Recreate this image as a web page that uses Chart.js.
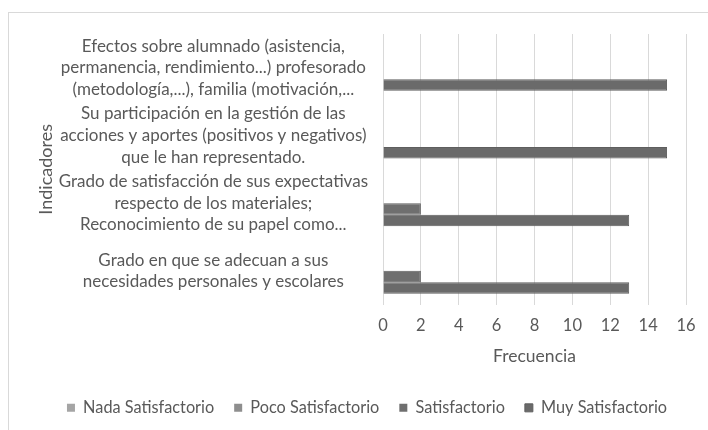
<!DOCTYPE html>
<html>
<head>
<meta charset="utf-8">
<script src="https://cdn.jsdelivr.net/npm/chart.js@4.4.1/dist/chart.umd.min.js"></script>
<style>
  html, body { margin: 0; padding: 0; background: #fff; overflow: hidden; width: 708px; height: 430px; }
  #frame { position: absolute; left: 8px; top: 12px; width: 716px; height: 440px; border: 1px solid #d9d9d9; }
  canvas { display: block; }
</style>
</head>
<body>
<div id="frame"><canvas id="chart" width="716" height="430"></canvas></div>
<script>
const categories = [
  ["Efectos sobre alumnado (asistencia,", "permanencia, rendimiento...) profesorado", "(metodología,...), familia (motivación,..."],
  ["Su participación en la gestión de las", "acciones y aportes (positivos y negativos)", "que le han representado."],
  ["Grado de satisfacción de sus expectativas", "respecto de los materiales;", "Reconocimiento de su papel como..."],
  ["Grado en que se adecuan a sus", "necesidades personales y escolares"],
];
const seriesNames = ["Nada Satisfactorio", "Poco Satisfactorio", "Satisfactorio", "Muy Satisfactorio"];
const nada = [0, 0, 0, 0];
const poco = [0, 0, 0, 0];
const satisf = [0, 0, 2, 2];
const muy = [15, 15, 13, 13];
const xTicks = [0, 2, 4, 6, 8, 10, 12, 14, 16];

const fontFamily = "Lato, 'Open Sans', sans-serif";
const textColor = "#595959";
const colors = ["#a5a5a5", "#8e8e8e", "#6f6f6f", "#6a6a6a"];

new Chart(document.getElementById("chart"), {
  type: "bar",
  data: {
    labels: categories,
    datasets: [nada, poco, satisf, muy].map((d, i) => ({
      label: seriesNames[i],
      data: d,
      backgroundColor: colors[i],
      borderColor: "#5e5e5e",
      borderWidth: d.map(v => (v > 0 && i >= 2 ? 1 : 0)),
      categoryPercentage: 0.68,
      barPercentage: 1,
    })),
  },
  options: {
    indexAxis: "y",
    responsive: false,
    animation: false,
    layout: { padding: { top: 21, right: 0, bottom: 17, left: 0 } },
    plugins: {
      legend: {
        position: "bottom",
        labels: { boxWidth: 8, boxHeight: 8, padding: 20, color: textColor, font: { family: fontFamily, size: 16.3 } },
      },
      tooltip: { enabled: false },
    },
    scales: {
      x: {
        min: 0,
        max: 16,
        afterBuildTicks: (scale) => { scale.ticks = xTicks.map(v => ({ value: v })); },
        afterFit: (scale) => { scale.height = 75; scale.paddingRight = 39; },
        grid: { color: "#d9d9d9", drawTicks: false },
        border: { display: false },
        ticks: { padding: 11, color: textColor, font: { family: fontFamily, size: 16.5 } },
        title: { display: true, text: "Frecuencia", color: textColor, font: { family: fontFamily, size: 17.5 }, padding: { top: 0, bottom: 13 } },
      },
      y: {
        afterFit: (scale) => { scale.width = 374; scale.paddingTop = 0; scale.paddingBottom = 0; },
        grid: { display: false, drawTicks: false },
        border: { display: false },
        ticks: { autoSkip: false, padding: 15, crossAlign: "center", color: textColor, font: { family: fontFamily, size: 17, lineHeight: 1.265 } },
        title: { display: true, text: "Indicadores", color: textColor, font: { family: fontFamily, size: 18 }, padding: { top: 26, bottom: 0 } },
      },
    },
  },
});
</script>
</body>
</html>
